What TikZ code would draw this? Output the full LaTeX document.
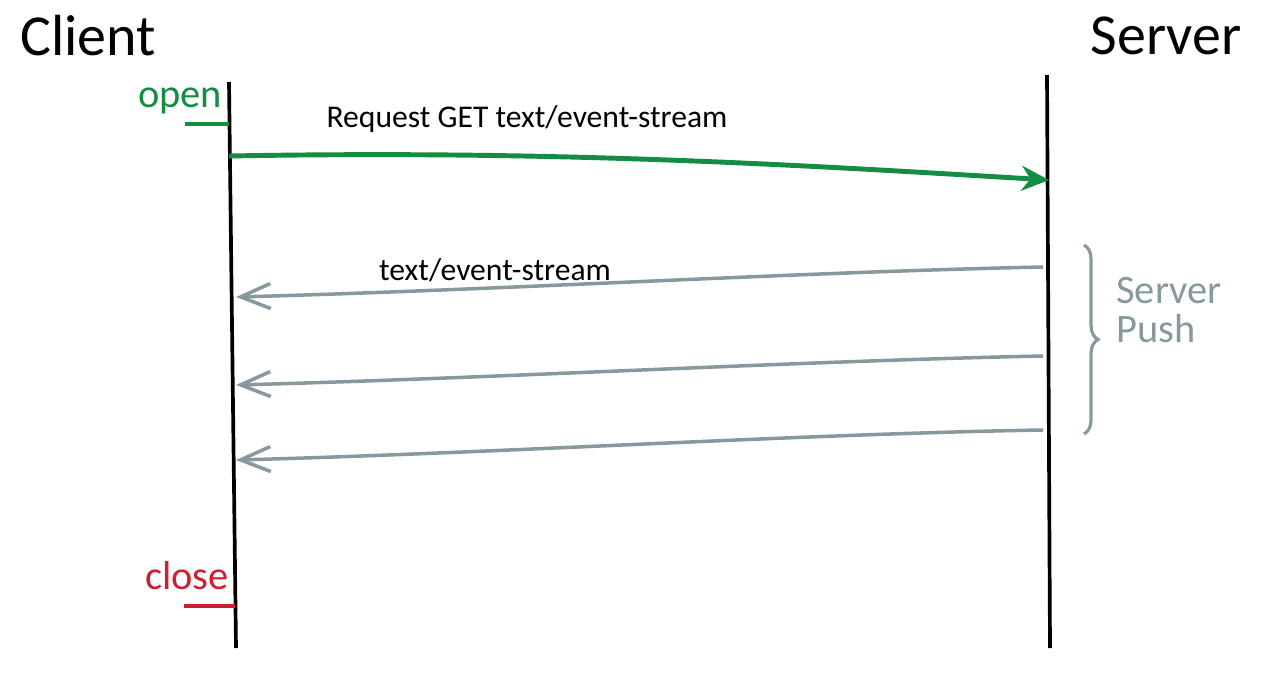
\documentclass[tikz,border=0pt]{standalone}
\usepackage{fontspec}
\setsansfont{Carlito}
\usepackage{xcolor}
\usetikzlibrary{positioning, arrows.meta, calc, decorations.pathreplacing}
\definecolor{opencolor}{RGB}{20,140,65}
\definecolor{closecolor}{RGB}{205,30,50}
\definecolor{pushcolor}{RGB}{135,152,158}

\begin{document}
\begin{tikzpicture}[
  x=0.02cm, y=-0.02cm,
  font=\sffamily,
  party/.style={inner sep=0pt, font=\sffamily\fontsize{33}{36}\selectfont},
  lifeline/.style={draw=black, line width=2.1pt},
  msglabel/.style={inner sep=0pt, font=\sffamily\fontsize{18}{21}\selectfont},
  hand/.style={inner sep=0pt, font=\sffamily\fontsize{23}{24}\selectfont},
  request/.style={draw=opencolor, line width=2.8pt, -{Stealth[length=5.5mm, width=5mm]}},
  push/.style={draw=pushcolor, line width=2pt, -{Straight Barb[length=6mm, width=5mm]}}
]
\useasboundingbox (0,0) rectangle (1280,689);

% participants
\node[party] (client) at (88,36) {Client};
\node[party] (server) at (1166,36) {Server};

% lifelines
\coordinate (client-top) at (229,82);
\coordinate (client-bot) at (236,648);
\coordinate (server-top) at (1047,75);
\coordinate (server-bot) at (1050,648);
\draw[lifeline] (client-top) -- (client-bot);
\draw[lifeline] (server-top) -- (server-bot);

% open / close marks
\node[hand, text=opencolor] (open) at (180,101) {open};
\coordinate (open-a) at (185,124);
\coordinate (open-b) at (229,124);
\draw[opencolor, line width=2.2pt] (open-a) -- (open-b);
\node[hand, text=closecolor] (close) at (187,576) {close};
\coordinate (close-a) at (184,606);
\coordinate (close-b) at (235,606);
\draw[closecolor, line width=2.2pt] (close-a) -- (close-b);

% request
\coordinate (req-c) at (229,156);
\coordinate (req-s) at (1049,180);
\draw[request] (req-c) .. controls (560,150) and (800,165) .. (req-s);
\node[msglabel] (req-label) at (527,119) {Request GET text/event-stream};

% server push
\coordinate (push1-s) at (1043,267);
\coordinate (push1-c) at (236,297);
\coordinate (push2-s) at (1043,356);
\coordinate (push2-c) at (236,385);
\coordinate (push3-s) at (1043,430);
\coordinate (push3-c) at (236,460);
\draw[push] (push1-s) .. controls (800,272) and (500,290) .. (push1-c);
\draw[push] (push2-s) .. controls (800,361) and (500,378) .. (push2-c);
\draw[push] (push3-s) .. controls (800,434) and (500,453) .. (push3-c);
\node[msglabel] (push-label) at (495,270) {text/event-stream};

% brace
\coordinate (brace-top) at (1084,245);
\coordinate (brace-bot) at (1084,434);
\draw[pushcolor, line width=1.8pt, decorate, decoration={brace, amplitude=8pt}] (brace-top) -- (brace-bot);
\node[hand, text=pushcolor, align=left, anchor=west] (push-note) at (1116,310) {Server\\[-2pt]Push};
\end{tikzpicture}
\end{document}
